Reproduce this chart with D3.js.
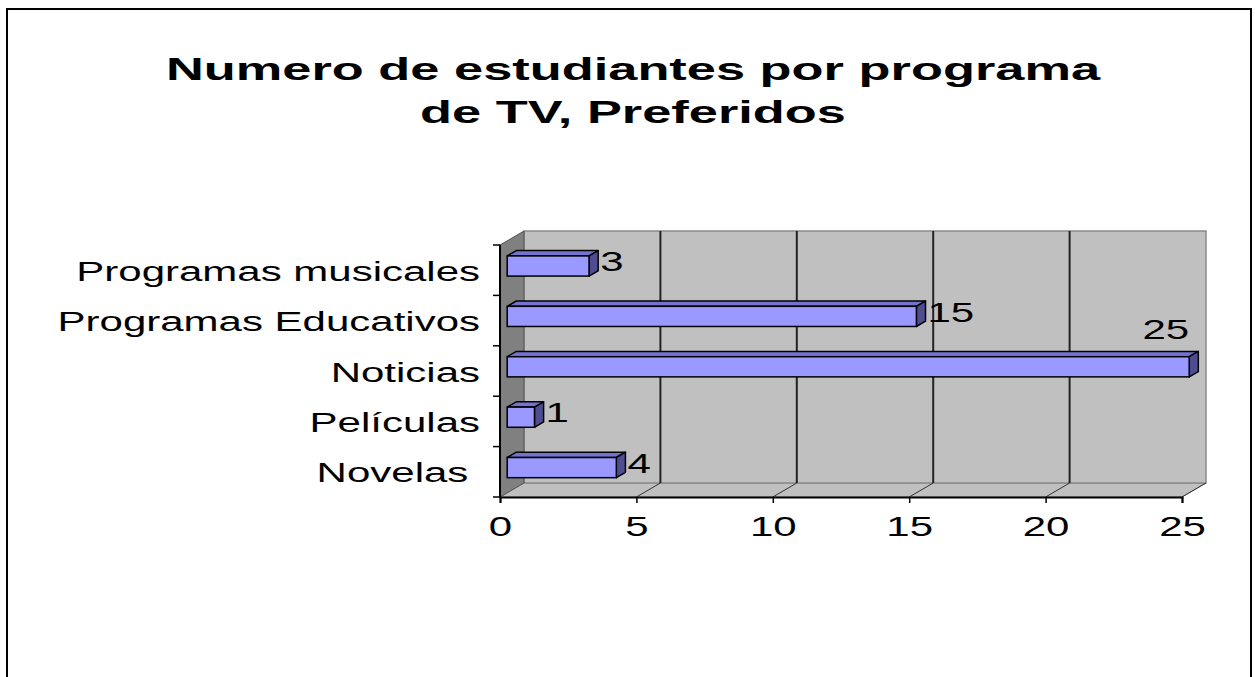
<!DOCTYPE html>
<html>
<head>
<meta charset="utf-8">
<script src="https://cdn.jsdelivr.net/npm/d3@7"></script>
<style>
  body { margin: 0; background: #fff; }
  text { font-family: 'Liberation Sans', Arial, sans-serif; fill: #000; }
</style>
</head>
<body>
<svg width="1255" height="677"></svg>
<script>
// data
const categories = ['Novelas ', 'Películas', 'Noticias', 'Programas Educativos', 'Programas musicales'];
const values = [4, 1, 25, 15, 3];
const xTicks = [0, 5, 10, 15, 20, 25];
const titleLines = ['Numero de estudiantes por programa', 'de TV, Preferidos'];

(function (d3) {
  'use strict';

  const svg = d3.select('svg');
  const data = categories.map((c, i) => ({ cat: c, value: values[i] }));

  // layout
  const plotLeft = 500, plotRight = 1182, plotTop = 245, plotBottom = 497;
  const depth = { x: 24, y: -14 };   // 3D offset of back wall
  const barFront = 0.3, barBack = 0.68;
  const sx = 1.5;                    // text is horizontally stretched in the reference
  const fontSize = 28;

  const xScale = d3.scaleLinear().domain([0, 25]).range([plotLeft, plotRight]);
  const yScale = d3.scaleBand().domain(categories.slice().reverse()).range([plotTop, plotBottom]);
  const barH = yScale.bandwidth() * 0.4;

  // outer frame
  svg.append('rect')
    .attr('x', 7).attr('y', 9).attr('width', 1244).attr('height', 700)
    .attr('fill', 'none').attr('stroke', '#000').attr('stroke-width', 2);

  // title
  svg.selectAll('.title').data(titleLines).enter().append('text')
    .attr('class', 'title')
    .attr('transform', (d, i) => `translate(633,${80 + i * 43}) scale(1.69,1)`)
    .attr('text-anchor', 'middle')
    .attr('font-weight', 'bold')
    .attr('font-size', 31)
    .text(d => d);

  const pt = (x, y) => `${x},${y}`;
  const g = svg.append('g');

  // walls
  const dx = depth.x, dy = depth.y;
  g.append('polygon') // floor
    .attr('points', [pt(plotLeft, plotBottom), pt(plotLeft + dx, plotBottom + dy), pt(plotRight + dx, plotBottom + dy), pt(plotRight, plotBottom)].join(' '))
    .attr('fill', '#c0c0c0').attr('stroke', '#8a8a8a').attr('stroke-width', 1);
  g.append('rect') // back wall
    .attr('x', plotLeft + dx).attr('y', plotTop + dy)
    .attr('width', plotRight - plotLeft).attr('height', plotBottom - plotTop)
    .attr('fill', '#c0c0c0').attr('stroke', '#8a8a8a').attr('stroke-width', 1.5);
  g.append('polygon') // side wall
    .attr('points', [pt(plotLeft, plotTop), pt(plotLeft + dx, plotTop + dy), pt(plotLeft + dx, plotBottom + dy), pt(plotLeft, plotBottom)].join(' '))
    .attr('fill', '#808080').attr('stroke', '#555').attr('stroke-width', 1);

  // gridlines on back wall and floor
  const grid = xTicks.filter(t => t > 0 && t < 25);
  g.selectAll('.grid').data(grid).enter().append('line')
    .attr('x1', d => xScale(d) + dx).attr('x2', d => xScale(d) + dx)
    .attr('y1', plotTop + dy).attr('y2', plotBottom + dy)
    .attr('stroke', '#222').attr('stroke-width', 2);
  g.selectAll('.floorgrid').data(xTicks.filter(t => t > 0)).enter().append('line')
    .attr('x1', d => xScale(d) + dx).attr('x2', d => xScale(d))
    .attr('y1', plotBottom + dy).attr('y2', plotBottom)
    .attr('stroke', '#333').attr('stroke-width', 1);

  // bars
  const fx = dx * barFront, fy = dy * barFront;
  const bx = dx * barBack, by = dy * barBack;
  const ox = bx - fx, oy = by - fy;
  g.selectAll('.bar').data(data).enter().append('g').attr('class', 'bar')
    .each(function (d) {
      const b = d3.select(this);
      const x0 = xScale(0) + fx, x1 = xScale(d.value) + fx;
      const y0 = yScale(d.cat) + yScale.bandwidth() / 2 - barH / 2 + fy;
      const y1 = y0 + barH;
      b.append('polygon') // top
        .attr('points', [pt(x0, y0), pt(x0 + ox, y0 + oy), pt(x1 + ox, y0 + oy), pt(x1, y0)].join(' '))
        .attr('fill', '#7373d0').attr('stroke', '#000').attr('stroke-width', 1.5).attr('stroke-linejoin', 'round');
      b.append('polygon') // side
        .attr('points', [pt(x1, y0), pt(x1 + ox, y0 + oy), pt(x1 + ox, y1 + oy), pt(x1, y1)].join(' '))
        .attr('fill', '#4d4d90').attr('stroke', '#000').attr('stroke-width', 1.5).attr('stroke-linejoin', 'round');
      b.append('rect') // front
        .attr('x', x0).attr('y', y0).attr('width', x1 - x0).attr('height', barH)
        .attr('fill', '#9999ff').attr('stroke', '#000').attr('stroke-width', 1.5);

      // value label: beside the bar, or above it when there is no room
      const fits = x1 + ox + 50 < plotRight + dx;
      const lx = fits ? x1 + ox + 2 : x1;
      const ly = fits ? yScale(d.cat) + yScale.bandwidth() / 2 + 1 : y0 + oy - 12;
      b.append('text')
        .attr('transform', `translate(${lx},${ly}) scale(${sx},1)`)
        .attr('text-anchor', fits ? 'start' : 'end')
        .attr('font-size', fontSize)
        .text(d.value);
    });

  // y axis
  const yAxisG = svg.append('g')
    .attr('transform', `translate(${plotLeft},0)`)
    .call(d3.axisLeft(yScale).tickSize(0).tickPadding(20));
  yAxisG.attr('font-family', null).attr('font-size', null);
  yAxisG.select('.domain').remove();
  yAxisG.selectAll('text')
    .attr('font-size', fontSize)
    .style('white-space', 'pre')
    .attr('x', -20 / sx)
    .attr('dy', '0.38em')
    .attr('transform', `scale(${sx},1)`);
  svg.append('line')
    .attr('x1', plotLeft).attr('x2', plotLeft).attr('y1', plotTop).attr('y2', plotBottom)
    .attr('stroke', '#000').attr('stroke-width', 2);
  const bounds = categories.slice().reverse().map(c => yScale(c)).concat([plotBottom]);
  svg.selectAll('.ytick').data(bounds).enter().append('line')
    .attr('x1', plotLeft - 7).attr('x2', plotLeft).attr('y1', d => d).attr('y2', d => d)
    .attr('stroke', '#000').attr('stroke-width', 1.5);

  // x axis
  const xAxisG = svg.append('g')
    .attr('transform', `translate(0,${plotBottom})`)
    .call(d3.axisBottom(xScale).tickValues(xTicks).tickSize(6).tickPadding(13));
  xAxisG.attr('font-family', null).attr('font-size', null);
  xAxisG.select('.domain').attr('stroke-width', 2);
  xAxisG.selectAll('.tick line').attr('stroke-width', 1.5);
  xAxisG.selectAll('text')
    .attr('font-size', fontSize)
    .attr('transform', `scale(${sx},1)`);
}(d3));
</script>
</body>
</html>
